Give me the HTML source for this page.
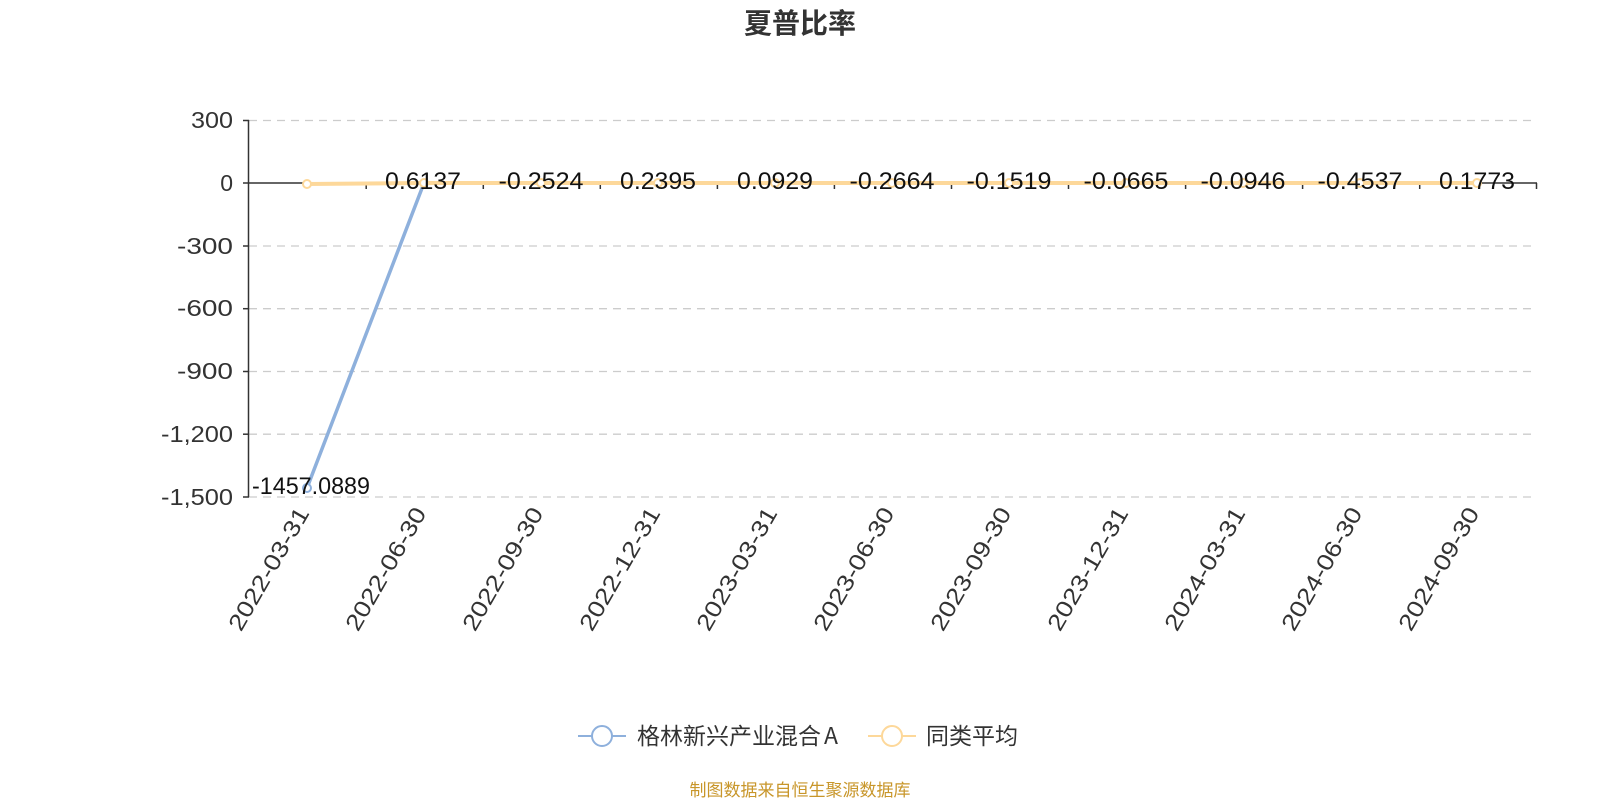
<!DOCTYPE html>
<html><head><meta charset="utf-8">
<style>
html,body{margin:0;padding:0;background:#fff;}
svg{display:block;}
text{font-family:"Liberation Sans","Noto Sans CJK SC",sans-serif;}
</style></head>
<body>
<svg width="1600" height="800" viewBox="0 0 1600 800" xmlns="http://www.w3.org/2000/svg">
<text x="800" y="33" text-anchor="middle" font-size="28" font-weight="bold" fill="#333" style="font-family:'Noto Sans CJK SC',sans-serif">夏普比率</text>
<g stroke="#ccc" stroke-width="1.3" stroke-dasharray="8,6">
<line x1="249" y1="120.5" x2="1537" y2="120.5"/>
<line x1="249" y1="246" x2="1537" y2="246"/>
<line x1="249" y1="308.7" x2="1537" y2="308.7"/>
<line x1="249" y1="371.5" x2="1537" y2="371.5"/>
<line x1="249" y1="434.2" x2="1537" y2="434.2"/>
<line x1="249" y1="497" x2="1537" y2="497"/>
</g>
<g stroke="#333" stroke-width="1.5">
<line x1="248.5" y1="120" x2="248.5" y2="497"/>
<line x1="248" y1="183" x2="1537" y2="183"/>
<line x1="243" y1="120.5" x2="249" y2="120.5"/>
<line x1="243" y1="183" x2="249" y2="183"/>
<line x1="243" y1="246" x2="249" y2="246"/>
<line x1="243" y1="308.7" x2="249" y2="308.7"/>
<line x1="243" y1="371.5" x2="249" y2="371.5"/>
<line x1="243" y1="434.2" x2="249" y2="434.2"/>
<line x1="243" y1="497" x2="249" y2="497"/>
<line x1="366.2" y1="183" x2="366.2" y2="189"/>
<line x1="483.3" y1="183" x2="483.3" y2="189"/>
<line x1="600.3" y1="183" x2="600.3" y2="189"/>
<line x1="717.4" y1="183" x2="717.4" y2="189"/>
<line x1="834.4" y1="183" x2="834.4" y2="189"/>
<line x1="951.5" y1="183" x2="951.5" y2="189"/>
<line x1="1068.5" y1="183" x2="1068.5" y2="189"/>
<line x1="1185.6" y1="183" x2="1185.6" y2="189"/>
<line x1="1302.6" y1="183" x2="1302.6" y2="189"/>
<line x1="1419.7" y1="183" x2="1419.7" y2="189"/>
<line x1="1536.5" y1="183" x2="1536.5" y2="189"/>
</g>
<g font-size="23" fill="#333" text-anchor="end">
<text x="233" y="128" textLength="42" lengthAdjust="spacingAndGlyphs">300</text>
<text x="233" y="191">0</text>
<text x="233" y="254" textLength="56" lengthAdjust="spacingAndGlyphs">-300</text>
<text x="233" y="316" textLength="56" lengthAdjust="spacingAndGlyphs">-600</text>
<text x="233" y="379" textLength="56" lengthAdjust="spacingAndGlyphs">-900</text>
<text x="233" y="442" textLength="72" lengthAdjust="spacingAndGlyphs">-1,200</text>
<text x="233" y="505" textLength="72" lengthAdjust="spacingAndGlyphs">-1,500</text>
</g>
<g font-size="23" fill="#333" text-anchor="end">
<text transform="translate(310,513) rotate(-60)" textLength="138" lengthAdjust="spacingAndGlyphs">2022-03-31</text>
<text transform="translate(427,513) rotate(-60)" textLength="138" lengthAdjust="spacingAndGlyphs">2022-06-30</text>
<text transform="translate(544,513) rotate(-60)" textLength="138" lengthAdjust="spacingAndGlyphs">2022-09-30</text>
<text transform="translate(661,513) rotate(-60)" textLength="138" lengthAdjust="spacingAndGlyphs">2022-12-31</text>
<text transform="translate(778,513) rotate(-60)" textLength="138" lengthAdjust="spacingAndGlyphs">2023-03-31</text>
<text transform="translate(895,513) rotate(-60)" textLength="138" lengthAdjust="spacingAndGlyphs">2023-06-30</text>
<text transform="translate(1012,513) rotate(-60)" textLength="138" lengthAdjust="spacingAndGlyphs">2023-09-30</text>
<text transform="translate(1129,513) rotate(-60)" textLength="138" lengthAdjust="spacingAndGlyphs">2023-12-31</text>
<text transform="translate(1246,513) rotate(-60)" textLength="138" lengthAdjust="spacingAndGlyphs">2024-03-31</text>
<text transform="translate(1363,513) rotate(-60)" textLength="138" lengthAdjust="spacingAndGlyphs">2024-06-30</text>
<text transform="translate(1480,513) rotate(-60)" textLength="138" lengthAdjust="spacingAndGlyphs">2024-09-30</text>
</g>
<polyline fill="none" stroke="#8eb0dc" stroke-width="3.5" points="307,488 424,183 541,183 658,183 775,183 892,183 1009,183 1126,183 1243,183 1360,183 1477,183"/>
<polyline fill="none" stroke="#fdd89a" stroke-width="4" points="307,184 424,183 541,183 658,183 775,183 892,183 1009,183 1126,183 1243,183 1360,183 1477,183"/>
<g fill="#fff" stroke="#fdd89a" stroke-width="2">
<circle cx="307" cy="184" r="4"/><circle cx="424" cy="183" r="4"/><circle cx="541" cy="183" r="4"/><circle cx="658" cy="183" r="4"/><circle cx="775" cy="183" r="4"/><circle cx="892" cy="183" r="4"/><circle cx="1009" cy="183" r="4"/><circle cx="1126" cy="183" r="4"/><circle cx="1243" cy="183" r="4"/><circle cx="1360" cy="183" r="4"/><circle cx="1477" cy="183" r="4"/>
</g>
<circle cx="307" cy="488" r="4" fill="#fff" stroke="#8eb0dc" stroke-width="2"/>
<g font-size="24" fill="#111" text-anchor="middle">
<text x="311" y="494" textLength="118" lengthAdjust="spacingAndGlyphs">-1457.0889</text>
<text x="423" y="189" textLength="76" lengthAdjust="spacingAndGlyphs">0.6137</text>
<text x="541" y="189" textLength="85" lengthAdjust="spacingAndGlyphs">-0.2524</text>
<text x="658" y="189" textLength="76" lengthAdjust="spacingAndGlyphs">0.2395</text>
<text x="775" y="189" textLength="76" lengthAdjust="spacingAndGlyphs">0.0929</text>
<text x="892" y="189" textLength="85" lengthAdjust="spacingAndGlyphs">-0.2664</text>
<text x="1009" y="189" textLength="85" lengthAdjust="spacingAndGlyphs">-0.1519</text>
<text x="1126" y="189" textLength="85" lengthAdjust="spacingAndGlyphs">-0.0665</text>
<text x="1243" y="189" textLength="85" lengthAdjust="spacingAndGlyphs">-0.0946</text>
<text x="1360" y="189" textLength="85" lengthAdjust="spacingAndGlyphs">-0.4537</text>
<text x="1477" y="189" textLength="76" lengthAdjust="spacingAndGlyphs">0.1773</text>
</g>
<line x1="578" y1="736" x2="626" y2="736" stroke="#8eb0dc" stroke-width="2"/>
<circle cx="602" cy="736" r="10" fill="#fff" stroke="#8eb0dc" stroke-width="2"/>
<text x="637" y="744" font-size="23" fill="#333" style="font-family:'Noto Sans CJK SC',sans-serif">格林新兴产业混合<tspan dx="3">A</tspan></text>
<line x1="868" y1="736" x2="916" y2="736" stroke="#fdd89a" stroke-width="2"/>
<circle cx="892" cy="736" r="10" fill="#fff" stroke="#fdd89a" stroke-width="2"/>
<text x="926" y="744" font-size="23" fill="#333" style="font-family:'Noto Sans CJK SC',sans-serif">同类平均</text>
<text x="800" y="796" text-anchor="middle" font-size="17" fill="#c8962a" style="font-family:'Noto Sans CJK SC',sans-serif">制图数据来自恒生聚源数据库</text>
</svg>
</body></html>
